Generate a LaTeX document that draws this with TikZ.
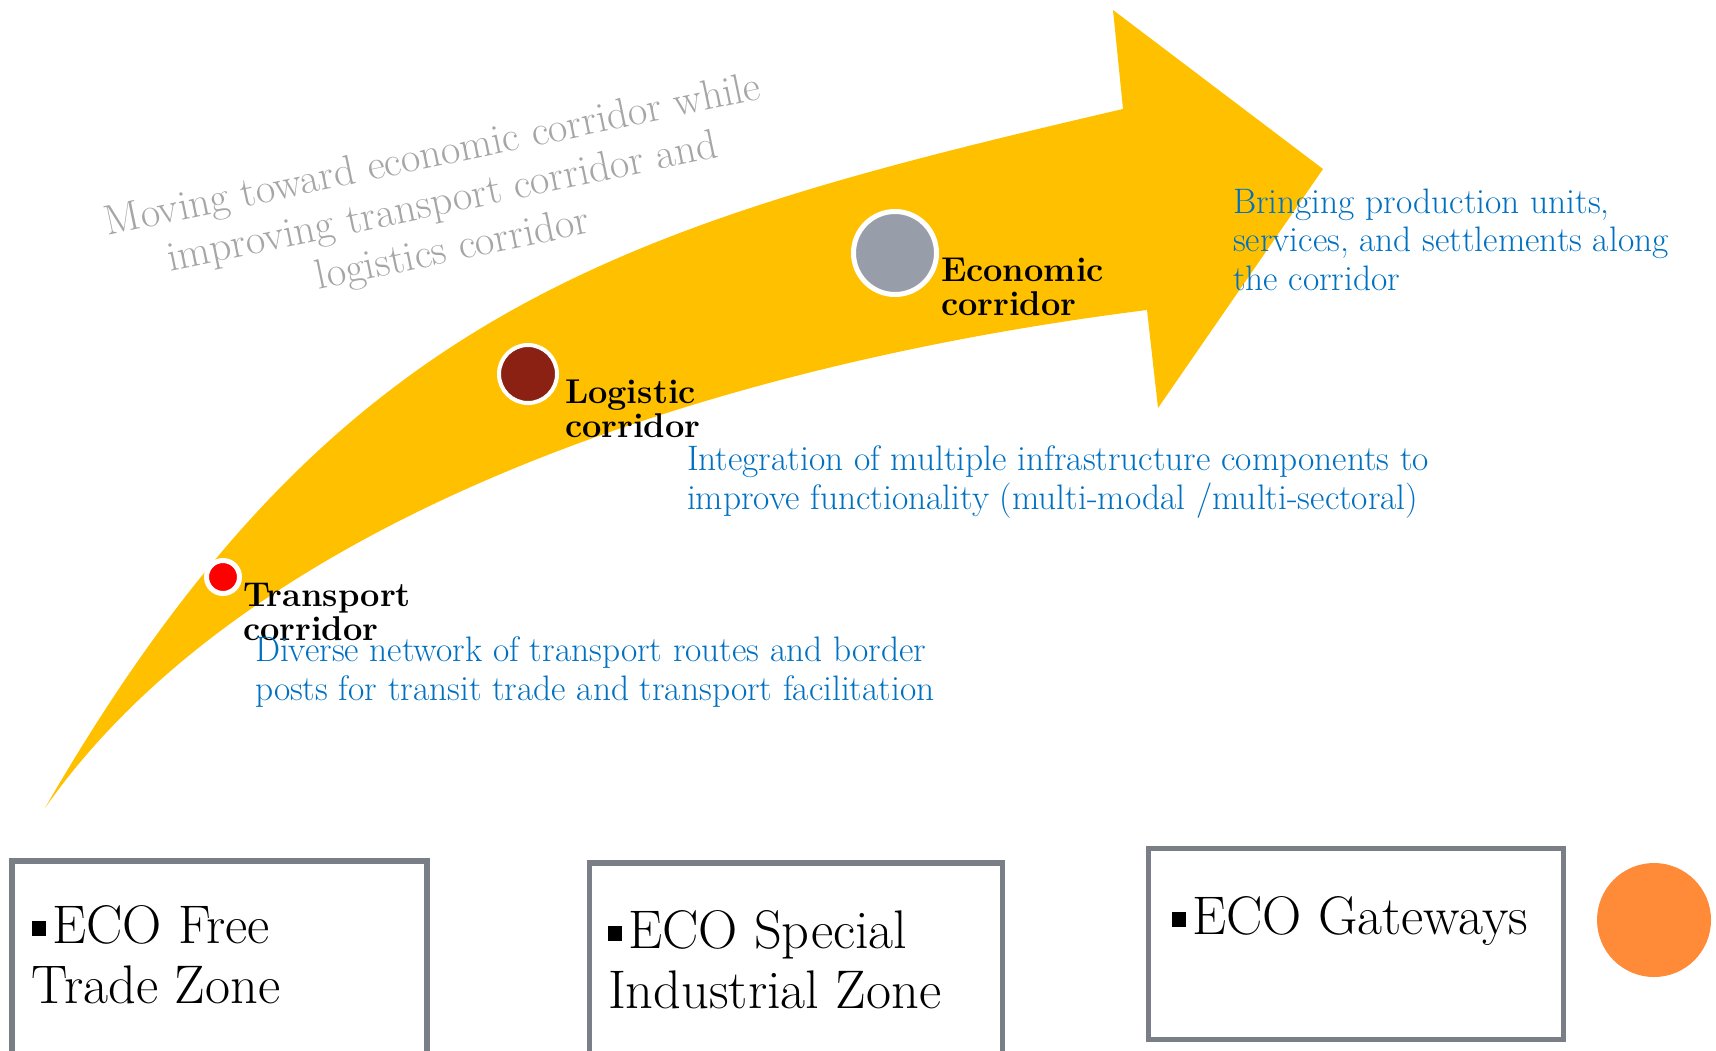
\documentclass[tikz,border=0pt]{standalone}
\definecolor{arrowyellow}{HTML}{FFC000}
\definecolor{descblue}{HTML}{0070C0}
\definecolor{mottogray}{HTML}{A6A6A6}
\definecolor{transred}{HTML}{FF0000}
\definecolor{logbrown}{HTML}{8A2113}
\definecolor{econgray}{HTML}{979DA9}
\definecolor{orborange}{HTML}{FF8A37}
\definecolor{boxgray}{HTML}{7A7E86}
\newcommand{\sqbul}{\rule[3.5pt]{7pt}{7.5pt}\hspace{3pt}}
\begin{document}
\begin{tikzpicture}[x=0.5pt,y=-0.5pt,
  every node/.style={inner sep=0pt, outer sep=0pt},
  stagelabel/.style={anchor=base west, align=left, font=\fontsize{17.2}{16.75}\selectfont\bfseries},
  desctext/.style={anchor=base west, align=left, text=descblue, font=\fontsize{17.7}{19.25}\selectfont},
  mottotext/.style={anchor=center, align=center, text=mottogray, font=\fontsize{21.1}{24}\selectfont},
  stagedot/.style={circle, draw=white},
  zonebox/.style={draw=boxgray, line width=2.75pt, fill=white, rectangle, anchor=north west},
  zonetext/.style={anchor=base west, align=left, font=\fontsize{27.2}{30}\selectfont}
]
\useasboundingbox (0,0) rectangle (1716,1050);
\clip (0,0) rectangle (1716,1050);

% big curved arrow
\fill[arrowyellow] (45,808) .. controls (330,314) and (610,228) .. (1123,109)
  -- (1113,10) -- (1323,169) -- (1158,408) -- (1147,310)
  .. controls (702,366) and (246,521) .. (45,808) -- cycle;

% stage dots
\node[stagedot, fill=transred, line width=2.5pt, minimum size=16.5pt] (transdot) at (223,577) {};
\node[stagedot, fill=logbrown, line width=2pt, minimum size=29pt] (logdot) at (528,374) {};
\node[stagedot, fill=econgray, line width=2.5pt, minimum size=41.5pt] (econdot) at (895,253) {};

% stage labels (anchored at the baseline of their last line)
\node[stagelabel] (translabel) at (243,640) {Transport\\corridor};
\node[stagelabel] (loglabel) at (565,437) {Logistic\\corridor};
\node[stagelabel] (econlabel) at (941,315) {Economic\\corridor};

% descriptions
\node[desctext] (econdesc) at (1233,290) {Bringing production units,\\services, and settlements along\\the corridor};
\node[desctext] (logdesc) at (687,509) {Integration of multiple infrastructure components to\\improve functionality (multi-modal /multi-sectoral)};
\node[desctext] (transdesc) at (255,700) {Diverse network of transport routes and border\\posts for transit trade and transport facilitation};

% motto
\node[mottotext, rotate=11.8] (motto) at (443,204) {Moving toward economic corridor while\\improving transport corridor and\\logistics corridor};

% zone boxes
\node[zonebox, minimum width=207.5pt, minimum height=120pt] (freebox) at (12,861) {};
\node[zonebox, minimum width=206.5pt, minimum height=120pt] (specialbox) at (589.5,863) {};
\node[zonebox, minimum width=207.5pt, minimum height=95.5pt] (gatebox) at (1148.5,848.5) {};

\node[zonetext] (freetext) at (32,1003) {\sqbul ECO Free\\Trade Zone};
\node[zonetext] (specialtext) at (608,1008) {\sqbul ECO Special\\Industrial Zone};
\node[zonetext] (gatetext) at (1172,934) {\sqbul ECO Gateways};

% orange disc
\node[circle, fill=orborange, minimum size=57pt] (orb) at (1654,920) {};
\end{tikzpicture}
\end{document}
